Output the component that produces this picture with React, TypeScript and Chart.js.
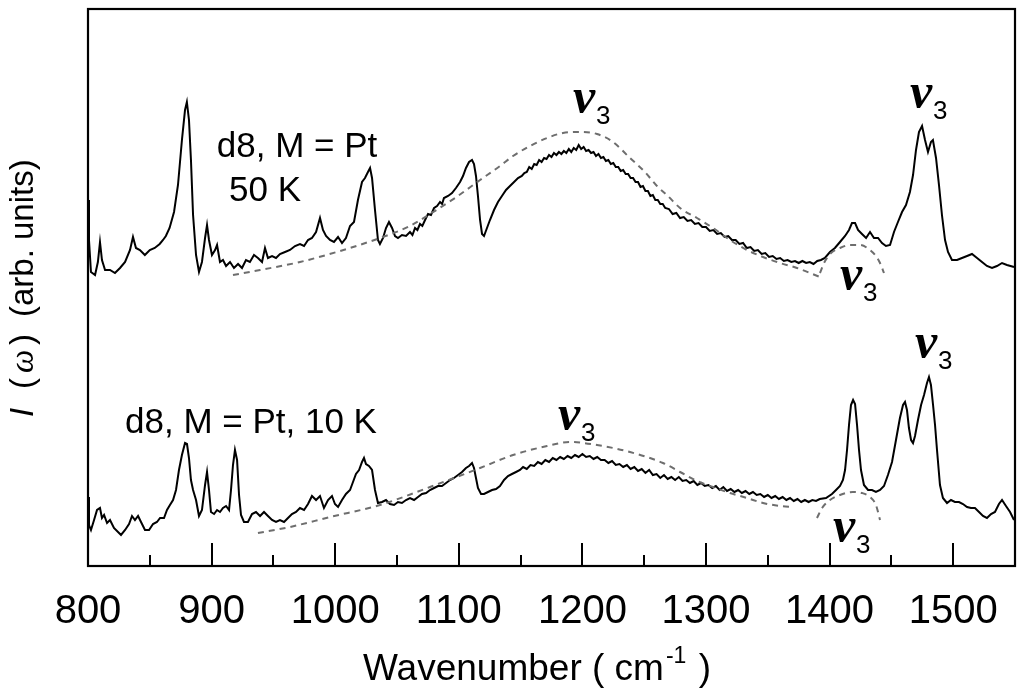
import React, { useEffect, useRef } from "react";
import { Chart, registerables } from "chart.js";
Chart.register(...registerables);

// Wavenumber ticks (cm^-1)
const majorTicks = [800, 900, 1000, 1100, 1200, 1300, 1400, 1500];
const minorTicks = [850, 950, 1050, 1150, 1250, 1350, 1450];

// 50 K spectrum (offset upward), [wavenumber, intensity arb.]
const spectrum50K: [number, number][] = [
  [800,366],[800.8,326],[802.4,294],[805.7,291],[808,304],[809.7,324],[811.3,306],[813.8,296],[817.8,296],[821.8,293],
  [825.9,298],[830,304],[834,316],[836.4,329],[838.8,318],[842,316],[846,311],[850,316],[854,318],[858,322],
  [860.7,326],[863,330],[866,338],[869.6,354],[872.8,381],[876,426],[878.5,456],[880,464],[881.7,446],[883.3,406],
  [885,351],[887.4,311],[889.8,294],[892.2,304],[894.7,328],[896.3,341],[897.9,326],[900.3,311],[902.8,316],[904.4,321],
  [906.8,304],[909.2,306],[911.7,300],[914.9,304],[918.1,298],[921.4,302],[924.6,298],[927.8,306],[931,304],[934.3,311],
  [937.5,308],[940.8,304],[943.2,318],[945.6,308],[948.9,310],[952.1,308],[955.3,312],[959.4,314],[963.4,316],[967.5,320],
  [971.5,322],[974.8,320],[978,326],[981.2,328],[984.5,334],[987.7,348],[990.1,336],[992.6,330],[995.8,326],[999,324],
  [1002.3,329],[1005.5,323],[1008.7,328],[1012,340],[1015.2,344],[1018.4,366],[1021.7,384],[1024.1,388],[1026.5,394],[1028.2,398],
  [1029.8,388],[1032.2,356],[1034.6,326],[1036.2,322],[1038.7,328],[1041.1,338],[1043.5,344],[1046,338],[1048.4,330],[1050.8,328],
  [1054,331],[1057.3,330],[1060.5,334],[1062.5,331],[1064.6,338],[1066.5,336],[1068.6,342],[1070.5,340],[1072.7,346],[1075.1,352],
  [1077.5,351],[1080,358],[1082.4,360],[1084.8,364],[1086.5,362],[1088,368],[1091.3,370],[1094.5,373],[1097.7,378],[1101,384],
  [1103.4,390],[1105.8,398],[1108.3,404],[1110.7,406],[1112.3,402],[1113.9,390],[1115.5,370],[1117.2,346],[1118.8,332],[1120.4,330],
  [1122.8,338],[1125.2,346],[1128.5,356],[1131.7,364],[1134.9,370],[1138.2,376],[1141.4,380],[1144.7,384],[1147.9,388],[1151,390],
  [1153,393],[1155,394],[1157,399],[1159,397],[1161,402],[1163,401],[1165,406],[1167,404],[1169,408],[1171,407],
  [1173,411],[1175,409],[1177,413],[1179,411],[1181,414],[1183,412],[1185,415],[1187,413],[1189,417],[1191,414],
  [1193,418],[1195,416],[1197,421],[1199,417],[1201,419],[1203,415],[1205,416],[1207,413],[1209,414],[1211,410],
  [1213,412],[1215,408],[1217,409],[1219,405],[1221,406],[1223,402],[1225,403],[1227,399],[1229,399],[1231,395],
  [1233,396],[1235,392],[1237,392],[1239,388],[1241,388],[1243,384],[1245,384],[1247,379],[1249,380],[1251,375],
  [1253,375],[1255,370],[1257,371],[1259,366],[1261,366],[1263,362],[1265,362],[1267,358],[1270,357],[1273,352],
  [1276,353],[1279,348],[1282,349],[1285,345],[1288,346],[1291,342],[1294,343],[1297,339],[1300,339],[1303,335],
  [1306,336],[1309,332],[1312,333],[1315,329],[1318,330],[1321,326],[1324,326],[1327,322],[1330,323],[1333,318],
  [1336,319],[1339,315],[1342,316],[1345,312],[1348,313],[1351,309],[1354,310],[1357,307],[1360,308],[1363,305],
  [1366,306],[1369,304],[1372,305],[1375,303],[1378,305],[1381,303],[1384,304],[1387,302],[1390,305],[1393,306],
  [1396.2,308],[1400.3,314],[1404.3,318],[1408.4,324],[1412.5,330],[1415.7,336],[1418.1,343],[1420.6,343],[1423,336],[1426.2,332],
  [1429.5,328],[1432.7,334],[1435.9,328],[1439.2,328],[1442.4,323],[1445.6,320],[1448.9,321],[1452.1,334],[1455.3,344],[1458.6,354],
  [1461.8,361],[1465,374],[1467.5,391],[1469.9,416],[1472.3,434],[1474.8,440],[1477.2,426],[1479.6,414],[1482,424],[1483.6,426],
  [1486.1,408],[1488.5,381],[1490.9,351],[1493.4,326],[1495.8,314],[1499,306],[1503.1,306],[1507.1,308],[1511.2,310],[1515.2,312],
  [1519.3,308],[1523.3,304],[1527.3,300],[1531.4,298],[1535.4,300],[1539.5,303],[1543.5,301],[1549.2,299],
];

// 10 K spectrum
const spectrum10K: [number, number][] = [
  [800,69],[800.8,41],[802.4,36],[804.9,46],[807.3,56],[809.7,58],[811.3,48],[813,51],[815.4,43],[817.8,46],
  [821,38],[824.3,34],[826.7,31],[830,36],[833.2,42],[835.6,50],[838,46],[840.5,50],[842.9,44],[846.1,36],
  [849.4,36],[852.6,42],[855.8,44],[858.3,48],[861.5,48],[863.9,56],[866.3,61],[868.8,66],[871.2,76],[873.6,96],
  [876,111],[878.5,123],[880.1,122],[881.7,108],[883.3,86],[885,76],[887.4,66],[889.8,50],[892.2,56],[894.7,81],
  [896.3,94],[897.9,76],[899.5,54],[902,52],[904.4,56],[906.8,54],[909.2,58],[911.7,60],[914.1,56],[915.7,76],
  [917.3,101],[918.9,116],[920.6,106],[922.2,71],[923.8,51],[926.2,44],[929.4,44],[932.7,52],[935.9,54],[939.2,50],
  [942.4,54],[945.6,50],[948.9,46],[952.1,44],[955.3,46],[958.6,44],[961.8,48],[965,52],[968.3,54],[971.5,58],
  [974.8,56],[978,62],[981.2,70],[984.5,66],[987.7,70],[990.9,58],[994.2,66],[997.4,70],[999.8,62],[1002.3,59],
  [1005.5,66],[1008.7,72],[1012,76],[1014.4,84],[1016.8,92],[1019.3,96],[1021.7,104],[1023.3,108],[1024.9,102],[1027.3,100],
  [1029.8,96],[1032.2,76],[1034.6,63],[1037.9,64],[1041.1,66],[1044.3,62],[1047.6,61],[1050.8,64],[1054,63],[1057.3,66],
  [1060.5,68],[1063.8,66],[1067,69],[1070.2,72],[1073.5,73],[1076.7,76],[1080,78],[1083.2,80],[1086.4,80],[1089.7,83],
  [1092.9,86],[1096.1,88],[1099.4,91],[1102.6,94],[1105.8,98],[1108.3,100],[1110.7,103],[1112.3,98],[1113.9,88],[1115.5,78],
  [1118,72],[1120.4,72],[1123.6,74],[1126.9,76],[1130.1,77],[1133.3,80],[1136.6,86],[1139.8,90],[1143,92],[1146.3,94],
  [1149.5,96],[1152,99],[1155,97],[1158,101],[1161,100],[1164,104],[1167,102],[1170,106],[1173,104],[1176,108],
  [1179,106],[1182,109],[1185,107],[1188,110],[1191,108],[1194,111],[1197,109],[1200,112],[1203,109],[1206,110],
  [1209,107],[1212,109],[1215,106],[1218,106],[1221,103],[1224,105],[1227,101],[1230,102],[1233,99],[1236,101],
  [1239,97],[1242,99],[1245,95],[1248,97],[1251,93],[1254,96],[1257,91],[1260,92],[1263,88],[1266,91],
  [1269,87],[1272,89],[1275,86],[1278,89],[1281,85],[1284,86],[1287,83],[1290,85],[1293,81],[1296,83],
  [1299,80],[1302,81],[1305,78],[1308,80],[1311,76],[1314,79],[1317,75],[1320,77],[1323,74],[1326,76],
  [1329,73],[1332,75],[1335,72],[1338,74],[1341,71],[1344,72],[1347,69],[1350,71],[1353,68],[1356,70],
  [1359,67],[1362,69],[1365,66],[1368,68],[1371,65],[1374,67],[1377,64],[1380,66],[1383,64],[1386,66],
  [1389,65],[1392,67],[1397.1,68],[1401.9,72],[1405.2,76],[1408.4,80],[1410.8,86],[1412.5,96],[1414.1,116],[1415.7,141],
  [1417.3,161],[1419,166],[1420.6,162],[1422.2,141],[1423.8,116],[1425.4,96],[1427.8,81],[1431.1,76],[1434.3,76],[1437.5,74],
  [1440.8,76],[1444,80],[1447.2,91],[1450.5,104],[1453.7,126],[1456.9,148],[1459.4,161],[1461,164],[1462.6,156],[1464.2,138],
  [1465.9,126],[1467.5,123],[1469.1,130],[1471.5,146],[1474,161],[1476.4,171],[1478.8,183],[1480.4,189],[1482,181],[1483.7,161],
  [1485.3,141],[1486.9,116],[1489.3,81],[1491.7,68],[1495,63],[1498.2,66],[1501.4,64],[1504.7,64],[1507.9,62],[1511.2,59],
  [1514.4,58],[1517.6,58],[1520.9,54],[1524.1,50],[1527.3,48],[1530.6,52],[1533.8,54],[1537,62],[1539.5,66],[1542.7,60],
  [1546,54],[1549.2,46],
];

// dashed ν3 guide bands
const band50Kbroad: [number, number][] = [
  [917.3,291],[939.2,296],[971.5,304],[1003.9,315],[1036.2,328],[1060.5,340],[1076.7,352],[1096.9,368],[1117.2,386],[1133.3,400],
  [1143.9,410],[1157.6,420],[1171.4,428],[1184.3,433],[1198.1,434],[1211.8,432],[1224.8,424],[1238.5,408],[1250.6,394],[1260.3,380],
  [1269.2,370],[1279,358],[1292.7,348],[1305.7,338],[1319.4,326],[1333.2,316],[1346.1,309],[1359.9,303],[1373.6,298],[1392.2,289],
];
const band50Knarrow: [number, number][] = [
  [1392.2,293],[1395.5,303],[1400.3,312],[1408.4,318],[1416.5,321],[1424.6,321],[1432.7,316],[1437.5,310],[1440.8,303],[1444,293],
];
const band10Kbroad: [number, number][] = [
  [937.5,33],[963.4,39],[995.8,49],[1036.2,61],[1076.7,79],[1117.2,98],[1143.9,111],[1171.4,120],[1190,124],[1211.8,121],
  [1238.5,114],[1265.2,103],[1279,94],[1292.7,85],[1305.7,79],[1319.4,73],[1333.2,68],[1346.1,63],[1359.9,60],[1370.4,59],
];
const band10Knarrow: [number, number][] = [
  [1389.8,48],[1393.9,58],[1400.3,66],[1408.4,71],[1418.9,74],[1426.2,73],[1432.7,69],[1437.5,61],[1440.8,46],
];

// ν3 label anchors [wavenumber, intensity]
const nuLabels: [number, number][] = [
  [1192.4,453],[1465,458],[1408.4,276],[1180.3,136],[1469.1,208],[1402.7,24],
];

const SANS = "'Liberation Sans', Arial, sans-serif";

const overlay = {
  id: "overlay",
  afterDraw(chart: any) {
    const { ctx, chartArea: a, scales } = chart;
    const xs = scales.x;
    const ys = scales.y;
    ctx.save();
    ctx.strokeStyle = "#000";
    ctx.lineWidth = 2;
    ctx.beginPath();
    for (const t of majorTicks) {
      const px = Math.round(xs.getPixelForValue(t));
      ctx.moveTo(px, a.bottom);
      ctx.lineTo(px, a.bottom - 23);
    }
    for (const t of minorTicks) {
      const px = Math.round(xs.getPixelForValue(t));
      ctx.moveTo(px, a.bottom);
      ctx.lineTo(px, a.bottom - 11);
    }
    ctx.stroke();
    ctx.lineWidth = 2.2;
    ctx.strokeRect(a.left, a.top, a.right - a.left, a.bottom - a.top);

    ctx.fillStyle = "#000";
    ctx.textBaseline = "alphabetic";
    // ν3 labels
    for (const [x, y] of nuLabels) {
      const px = xs.getPixelForValue(x);
      const py = ys.getPixelForValue(y);
      ctx.textAlign = "left";
      ctx.font = "italic bold 50px 'Liberation Serif', serif";
      ctx.fillText("ν", px, py);
      ctx.font = `26px ${SANS}`;
      ctx.fillText("3", px + 23, py + 11);
    }

    // sample labels
    ctx.font = `35px ${SANS}`;
    ctx.textAlign = "center";
    ctx.fillText("d8, M = Pt", 297, 157);
    ctx.fillText("50 K", 265, 201);
    ctx.fillText("d8, M = Pt, 10 K", 251, 433);

    // x title
    const part1 = "Wavenumber ( cm";
    const sup = "-1";
    const part3 = " )";
    ctx.font = `37px ${SANS}`;
    const w1 = ctx.measureText(part1).width;
    const w3 = ctx.measureText(part3).width;
    ctx.font = `23px ${SANS}`;
    const w2 = ctx.measureText(sup).width + 4;
    const total = w1 + w2 + w3;
    const sx = 537 - total / 2;
    ctx.textAlign = "left";
    ctx.font = `37px ${SANS}`;
    ctx.fillText(part1, sx, 680);
    ctx.font = `23px ${SANS}`;
    ctx.fillText(sup, sx + w1 + 2, 663);
    ctx.font = `37px ${SANS}`;
    ctx.fillText(part3, sx + w1 + w2, 680);

    // y title (rotated)
    ctx.save();
    ctx.translate(24, 417);
    ctx.rotate(-Math.PI / 2);
    ctx.textBaseline = "middle";
    ctx.textAlign = "left";
    ctx.font = `italic 33px ${SANS}`;
    ctx.fillText("I", 0, 0);
    ctx.font = `33px ${SANS}`;
    ctx.fillText("(", 28, 0);
    ctx.font = "italic 33px 'Liberation Serif', serif";
    ctx.fillText("ω", 44, 0);
    ctx.font = `33px ${SANS}`;
    ctx.fillText(")", 72, 0);
    ctx.fillText("(arb. units)", 100, 0);
    ctx.restore();

    ctx.restore();
  },
};

const toPts = (arr: [number, number][]) => arr.map(([x, y]) => ({ x, y }));

export default function App() {
  const ref = useRef<HTMLCanvasElement | null>(null);
  useEffect(() => {
    if (!ref.current) return;
    const solid = (data: [number, number][]) => ({
      data: toPts(data),
      borderColor: "#000",
      borderWidth: 2,
      pointRadius: 0,
      showLine: true,
      tension: 0,
      fill: false,
    });
    const dashed = (data: [number, number][]) => ({
      data: toPts(data),
      borderColor: "#6e6e6e",
      borderWidth: 2,
      borderDash: [6, 5],
      pointRadius: 0,
      showLine: true,
      tension: 0.4,
      cubicInterpolationMode: "monotone" as const,
      fill: false,
    });
    const chart = new Chart(ref.current, {
      type: "scatter",
      data: {
        datasets: [
          dashed(band50Kbroad),
          dashed(band50Knarrow),
          dashed(band10Kbroad),
          dashed(band10Knarrow),
          solid(spectrum50K),
          solid(spectrum10K),
        ],
      },
      options: {
        responsive: false,
        animation: false,
        events: [],
        layout: { padding: { top: 9, right: 9, left: 0, bottom: 0 } },
        plugins: { legend: { display: false }, tooltip: { enabled: false } },
        scales: {
          x: {
            type: "linear",
            min: 800,
            max: 1550,
            grid: { display: false, drawTicks: false },
            border: { display: false },
            ticks: {
              stepSize: 100,
              includeBounds: false,
              autoSkip: false,
              maxRotation: 0,
              padding: 22,
              color: "#000",
              font: { family: SANS, size: 40 },
              callback: (v: any) => (Number(v) % 100 === 0 ? String(v) : ""),
            },
            afterFit: (s: any) => {
              s.height = 129;
            },
          },
          y: {
            type: "linear",
            min: 0,
            max: 557,
            grid: { display: false, drawTicks: false },
            border: { display: false },
            ticks: { display: false },
            afterFit: (s: any) => {
              s.width = 88;
            },
          },
        },
      },
      plugins: [overlay],
    });
    return () => chart.destroy();
  }, []);
  return (
    <div style={{ position: "absolute", left: 0, top: 0, width: 1024, height: 695, background: "#fff" }}>
      <canvas ref={ref} width={1024} height={695} />
    </div>
  );
}
